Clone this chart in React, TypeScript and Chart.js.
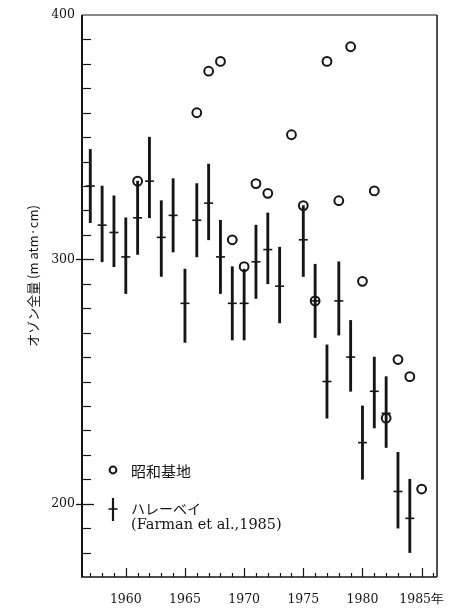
import React, { useEffect, useRef } from "react";
import { Chart, registerables } from "chart.js";

Chart.register(...registerables);

// ---- data ----
const haleyYears = [1957, 1958, 1959, 1960, 1961, 1962, 1963, 1964, 1965, 1966, 1967, 1968, 1969, 1970, 1971, 1972, 1973, 1975, 1976, 1977, 1978, 1979, 1980, 1981, 1982, 1983, 1984];
const haleyMean = [330, 314, 311, 301, 317, 332, 309, 318, 282, 316, 323, 301, 282, 282, 299, 304, 289, 308, 283, 250, 283, 260, 225, 246, 237, 205, 194];
const haleyLow = [315, 299, 297, 286, 302, 317, 293, 303, 266, 301, 308, 286, 267, 267, 284, 290, 274, 293, 268, 235, 269, 246, 210, 231, 223, 190, 180];
const haleyHigh = [345, 330, 326, 317, 332, 350, 324, 333, 296, 331, 339, 316, 297, 296, 314, 319, 305, 322, 298, 265, 299, 275, 240, 260, 252, 221, 210];

const syowaYears = [1961, 1966, 1967, 1968, 1969, 1970, 1971, 1972, 1974, 1975, 1976, 1977, 1978, 1979, 1980, 1981, 1982, 1983, 1984, 1985];
const syowaValues = [332, 360, 377, 381, 308, 297, 331, 327, 351, 322, 283, 381, 324, 387, 291, 328, 235, 259, 252, 206];

const xTickValues = [1960, 1965, 1970, 1975, 1980, 1985];
const yTickValues = [200, 300, 400];
const xMin = 1956.3;
const xMax = 1986.3;
const yMin = 170;
const yMax = 400;

const yTitle = "オゾン全量 (m atm·cm)";
const lastYearSuffix = "年";
const legendSyowa = "昭和基地";
const legendHaley = "ハレーベイ";
const legendHaleyRef = "(Farman et al.,1985)";

const INK = "#151515";
const SERIF = "'DejaVu Serif', 'Liberation Serif', serif";
const CJK = "'Noto Sans CJK JP', 'Noto Sans', sans-serif";

const framePlugin = {
  id: "frameTicksLegend",
  afterDraw(chart: any) {
    const { ctx, chartArea, scales } = chart;
    const { left, right, top, bottom } = chartArea;
    const xs = scales.x;
    const ys = scales.y;
    const line = (x1: number, y1: number, x2: number, y2: number, w: number) => {
      ctx.lineWidth = w;
      ctx.beginPath();
      ctx.moveTo(x1, y1);
      ctx.lineTo(x2, y2);
      ctx.stroke();
    };
    ctx.save();
    ctx.strokeStyle = INK;
    ctx.fillStyle = INK;

    // frame
    line(left, top, left, bottom, 2);
    line(left - 1, bottom, right, bottom, 1.6);
    line(left, top, right, top, 1.1);
    line(right, top, right, bottom, 1.5);

    // y ticks (inside, minor every 10, majors cross axis)
    for (let v = yMin + 10; v < yMax; v += 10) {
      const py = Math.round(ys.getPixelForValue(v)) + 0.5;
      if (v % 100 === 0) line(left - 6, py, left + 12, py, 1.3);
      else line(left, py, left + 9, py, 1.2);
    }
    // x ticks (inside, minor every year, major every 5)
    for (let yr = 1957; yr <= 1986; yr++) {
      const px = Math.round(xs.getPixelForValue(yr)) + 0.5;
      const len = yr % 5 === 0 ? 9 : 4;
      line(px, bottom, px, bottom - len, 1.2);
    }

    // legend
    const lx = left + 31;
    const tx = left + 49;
    const ly1 = 470;
    const ly2 = 509;
    ctx.beginPath();
    ctx.lineWidth = 2;
    ctx.arc(lx, ly1, 3.4, 0, Math.PI * 2);
    ctx.stroke();
    line(lx, ly2 - 11, lx, ly2 + 12, 2.2);
    line(lx - 4.5, ly2, lx + 4.5, ly2, 1.6);

    ctx.textBaseline = "middle";
    ctx.textAlign = "left";
    ctx.font = `15px ${CJK}`;
    ctx.fillText(legendSyowa, tx, ly1 + 1);
    ctx.font = `14px ${CJK}`;
    ctx.fillText(legendHaley, tx, ly2);
    ctx.font = `14.5px ${SERIF}`;
    ctx.fillText(legendHaleyRef, tx, ly2 + 16);

    // y title
    ctx.save();
    ctx.translate(33, 276);
    ctx.rotate(-Math.PI / 2);
    ctx.textAlign = "center";
    ctx.textBaseline = "middle";
    ctx.font = `13px ${CJK}`;
    ctx.fillText(yTitle, 0, 0);
    ctx.restore();

    ctx.restore();
  },
};

export default function App() {
  const canvasRef = useRef<HTMLCanvasElement | null>(null);

  useEffect(() => {
    const canvas = canvasRef.current;
    if (!canvas) return;
    const chart = new Chart(canvas, {
      type: "scatter",
      data: {
        datasets: [
          {
            type: "bar",
            label: "error",
            data: haleyYears.map((x, i) => ({ x, y: [haleyLow[i], haleyHigh[i]] })) as any,
            backgroundColor: INK,
            borderWidth: 0,
            barThickness: 2.2,
            grouped: false,
            order: 3,
          } as any,
          {
            type: "scatter",
            label: legendHaley,
            data: haleyYears.map((x, i) => ({ x, y: haleyMean[i] })),
            pointStyle: "line",
            pointRadius: 4.5,
            pointBorderWidth: 1.6,
            pointBorderColor: INK,
            pointBackgroundColor: INK,
            order: 2,
          } as any,
          {
            type: "scatter",
            label: legendSyowa,
            data: syowaYears.map((x, i) => ({ x, y: syowaValues[i] })),
            pointStyle: "circle",
            pointRadius: 4.4,
            pointBorderWidth: 2,
            pointBorderColor: INK,
            pointBackgroundColor: "rgba(0,0,0,0)",
            order: 1,
          } as any,
        ],
      },
      options: {
        animation: false,
        responsive: false,
        maintainAspectRatio: false,
        layout: { padding: { top: 15, right: 22, left: 0, bottom: 0 } },
        plugins: {
          legend: { display: false },
          tooltip: { enabled: false },
        },
        scales: {
          x: {
            type: "linear",
            min: xMin,
            max: xMax,
            offset: false,
            grid: { display: false, drawTicks: false },
            border: { display: false },
            afterFit: (s: any) => {
              s.height = 33;
            },
            afterBuildTicks: (s: any) => {
              s.ticks = xTickValues.map((v) => ({ value: v }));
            },
            ticks: {
              autoSkip: false,
              maxRotation: 0,
              padding: 15,
              color: INK,
              font: { family: SERIF, size: 12.5 },
              callback: (v: any) => (v === 1985 ? `${v}${lastYearSuffix}` : String(v)),
            },
          },
          y: {
            type: "linear",
            min: yMin,
            max: yMax,
            grid: { display: false, drawTicks: false },
            border: { display: false },
            afterFit: (s: any) => {
              s.width = 82;
            },
            afterBuildTicks: (s: any) => {
              s.ticks = yTickValues.map((v) => ({ value: v }));
            },
            ticks: {
              autoSkip: false,
              padding: 7,
              color: INK,
              font: { family: SERIF, size: 12.5 },
              callback: (v: any) => String(v),
            },
          },
        } as any,
      },
      plugins: [framePlugin],
    });
    return () => chart.destroy();
  }, []);

  return (
    <div style={{ position: "absolute", left: 0, top: 0, width: 460, height: 610, background: "#fff" }}>
      <canvas ref={canvasRef} width={460} height={610} style={{ display: "block" }} />
    </div>
  );
}
